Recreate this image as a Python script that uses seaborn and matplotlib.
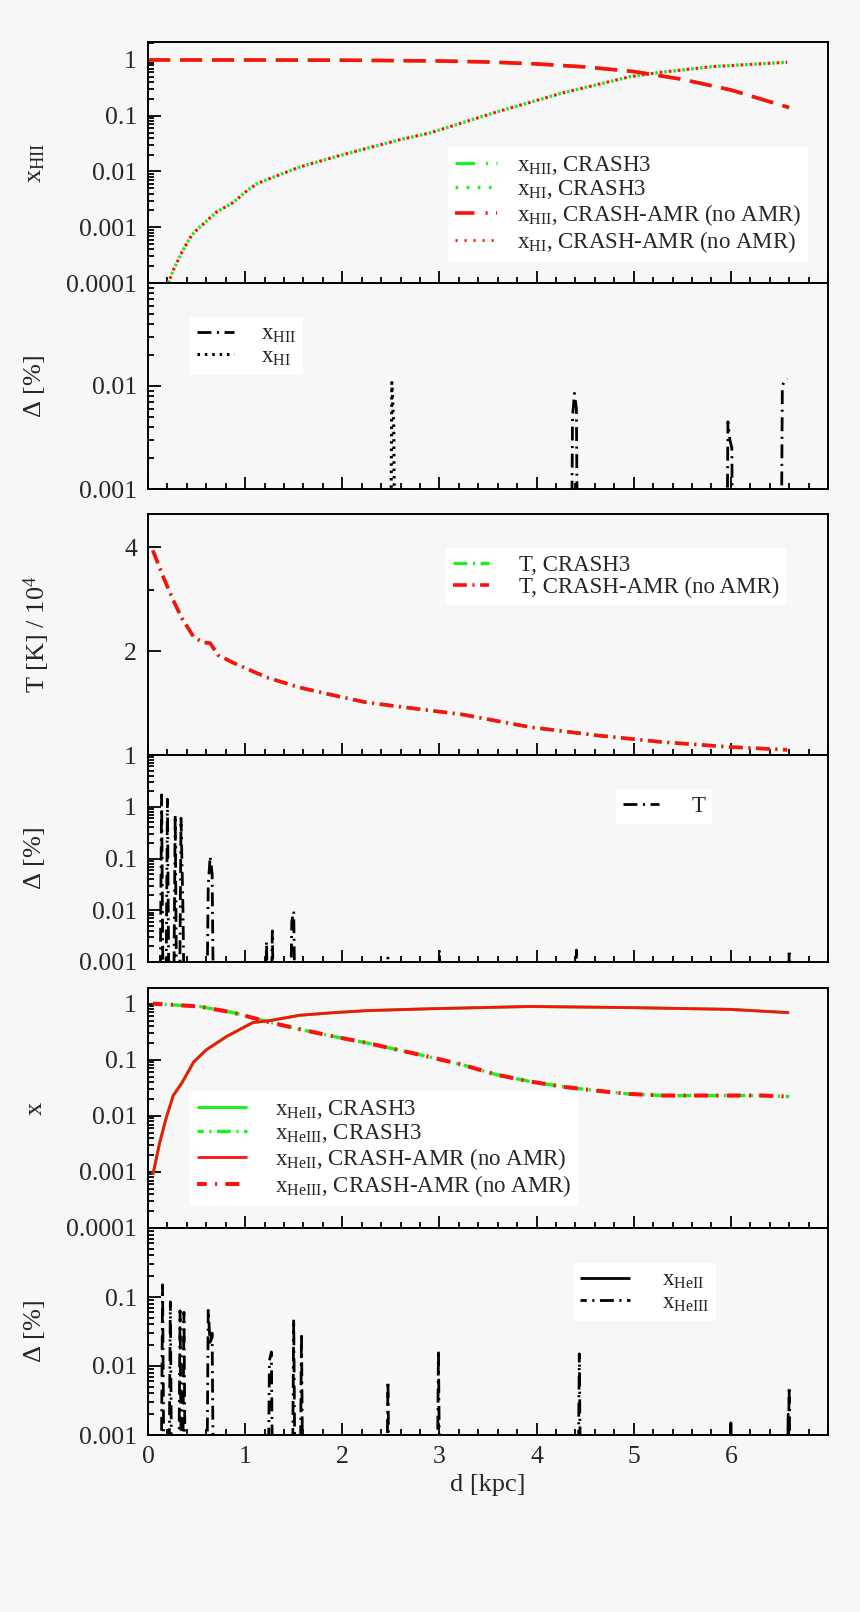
import numpy as np
import seaborn as sns
import matplotlib
matplotlib.use('Agg')
import matplotlib.pyplot as plt
from matplotlib.ticker import MultipleLocator, FixedLocator, NullFormatter, LogLocator

# ---- data ----
# panel 1: hydrogen ionisation fractions
d_hii = [0.0, 1.0, 2.0, 3.0, 3.5, 4.0, 4.5, 5.0, 5.5, 6.0, 6.6]
x_hii = [1.0, 1.0, 0.99, 0.96, 0.92, 0.85, 0.75, 0.62, 0.45, 0.29, 0.14]
d_hi = [0.21, 0.26, 0.35, 0.41, 0.45, 0.50, 0.71, 0.88, 1.03, 1.12, 1.22, 1.56,
        1.91, 2.25, 2.59, 2.90, 3.59, 4.27, 4.96, 5.24, 5.81, 6.58]
x_hi = [1.0e-4, 1.7e-4, 3.6e-4, 5.5e-4, 7.2e-4, 8.9e-4, 1.9e-3, 2.8e-3, 4.7e-3,
        6.0e-3, 7.1e-3, 0.012, 0.018, 0.026, 0.037, 0.049, 0.117, 0.257, 0.50,
        0.59, 0.76, 0.91]

# panel 2: relative differences (%)
dd_hii = [0.0, 4.35, 4.37, 4.39, 4.41, 4.43, 5.95, 5.97, 5.99, 6.01, 6.03,
          6.51, 6.53, 6.55, 6.58]
delta_hii = [1e-5, 1e-5, 0.005, 0.0085, 0.006, 1e-5, 1e-5, 0.0045, 0.003,
             0.0025, 1e-5, 1e-5, 0.0100, 0.0112, 0.0118]
dd_hi = [0.0, 2.49, 2.51, 2.53, 2.55]
delta_hi = [1e-5, 1e-5, 0.0108, 0.004, 1e-5]

# panel 3: temperature / 1e4 K
d_T = [0.05, 0.16, 0.26, 0.35, 0.47, 0.57, 0.64, 0.72, 0.88, 1.22, 1.56, 1.91,
       2.25, 2.87, 3.24, 3.93, 4.62, 5.30, 5.99, 6.58]
T_amr = [3.92, 3.27, 2.81, 2.49, 2.20, 2.12, 2.11, 1.95, 1.85, 1.68, 1.57, 1.49,
         1.42, 1.35, 1.31, 1.205, 1.14, 1.09, 1.055, 1.035]

# panel 4: relative difference in T (%)
dd_T = [0.0, 0.12, 0.14, 0.16, 0.18, 0.20, 0.22, 0.24, 0.26, 0.28, 0.30, 0.32,
        0.34, 0.36, 0.38, 0.60, 0.62, 0.64, 0.66, 0.68, 1.20, 1.22, 1.24, 1.26,
        1.28, 1.30, 1.46, 1.48, 1.50, 1.52, 2.46, 2.47, 2.48, 2.99, 3.00, 3.01,
        4.40, 4.41, 4.42, 6.59, 6.60, 6.61]
delta_T = [1e-5, 1e-5, 1.7, 1e-5, 1e-5, 1.4, 1e-5, 1e-5, 1e-5, 0.7, 1e-5, 1e-5,
           0.6, 0.01, 1e-5, 1e-5, 0.03, 0.11, 0.05, 1e-5, 1e-5, 0.0025, 1e-5,
           1e-5, 0.004, 1e-5, 1e-5, 0.006, 0.0095, 1e-5, 1e-5, 0.0012, 1e-5,
           1e-5, 0.0017, 1e-5, 1e-5, 0.0017, 1e-5, 1e-5, 0.0017, 1e-5]

# panel 5: helium ionisation fractions
d_he = [0.05, 0.12, 0.19, 0.26, 0.35, 0.47, 0.60, 0.81, 0.95, 1.08, 1.26, 1.56,
        1.91, 2.25, 2.90, 3.93, 4.96, 5.99, 6.60]
x_heii = [8.9e-4, 3.3e-3, 9.5e-3, 0.023, 0.039, 0.091, 0.15, 0.26, 0.35, 0.46,
          0.50, 0.62, 0.69, 0.75, 0.81, 0.89, 0.85, 0.79, 0.69]
d_heiii = [0.05, 0.53, 0.88, 1.22, 1.56, 1.91, 2.25, 2.90, 3.24, 3.59, 3.93,
           4.27, 4.62, 4.96, 5.30, 5.81, 6.33, 6.60]
x_heiii = [1.0, 0.89, 0.69, 0.48, 0.35, 0.26, 0.20, 0.112, 0.081, 0.054, 0.041,
           0.033, 0.028, 0.0245, 0.023, 0.023, 0.023, 0.022]

# panel 6: relative differences in helium (%)
dd_heiii = [0.0, 0.13, 0.15, 0.17, 0.21, 0.23, 0.25, 0.31, 0.33, 0.35, 0.37,
            0.39, 0.60, 0.62, 0.64, 0.66, 0.68, 1.23, 1.25, 1.27, 1.29, 1.48,
            1.50, 1.52, 1.56, 1.58, 1.60, 2.45, 2.47, 2.49, 2.97, 2.99, 3.01,
            4.42, 4.44, 4.46, 6.58, 6.60, 6.62]
delta_heiii = [1e-5, 1e-5, 0.15, 1e-5, 1e-5, 0.085, 1e-5, 1e-5, 0.063, 1e-5,
               0.06, 1e-5, 1e-5, 0.067, 0.02, 0.03, 1e-5, 1e-5, 0.012, 0.016,
               1e-5, 1e-5, 0.048, 1e-5, 1e-5, 0.03, 1e-5, 1e-5, 0.006, 1e-5,
               1e-5, 0.017, 1e-5, 1e-5, 0.015, 1e-5, 1e-5, 0.005, 1e-5]
dd_heii = [0.0, 5.99, 6.00, 6.01, 6.57, 6.59, 6.61]
delta_heii = [1e-5, 1e-5, 0.0015, 1e-5, 1e-5, 0.002, 1e-5]

# ---- style ----
sns.set_style('ticks')
BG = '#f7f7f7'
GREEN = '#1ef01e'
RED = '#ff1010'
plt.rcParams['font.family'] = ['Liberation Serif', 'DejaVu Serif']
plt.rcParams.update({
    'mathtext.fontset': 'custom',
    'mathtext.rm': 'Liberation Serif',
    'mathtext.it': 'Liberation Serif:italic',
    'mathtext.bf': 'Liberation Serif:bold',
    'lines.scale_dashes': False,
    'axes.linewidth': 1.4,
    'axes.edgecolor': 'black',
    'axes.facecolor': BG,
    'figure.facecolor': BG,
    'savefig.facecolor': BG,
})

DASHDOT = (0, (10, 4, 1.5, 4))
LONGDASH = (0, (16, 7))
DOTDASH = (5.5, (10, 4, 1.5, 4))
DOT_G = (0, (2, 4.5))
DOT_R = (3.25, (2, 4.5))

fig = plt.figure(figsize=(8.6, 16.12), dpi=100)
L, W = 148 / 860, 680 / 860
H = 1612
def panel(top, bottom):
    return fig.add_axes([L, 1 - bottom / H, W, (bottom - top) / H])

axes = [panel(42, 283), panel(283, 489), panel(514, 755),
        panel(755, 962), panel(988, 1228), panel(1228, 1435)]


def draw(ax, x, y, color, lw, ls, label=None):
    sns.lineplot(x=x, y=y, ax=ax, sort=False, estimator=None, color=color,
                 lw=lw, legend=False)
    line = ax.lines[-1]
    line.set_linestyle(ls)
    line.set_solid_capstyle('butt')
    line.set_dash_capstyle('butt')
    if label:
        line.set_label(label)
    return line


def style(ax, ylim, majors, labels, ylabel, lx=-0.149, minors=None, xlabels=False):
    ax.set_xlim(0, 7)
    ax.set_ylim(*ylim)
    ax.xaxis.set_major_locator(FixedLocator([0, 1, 2, 3, 4, 5, 6]))
    ax.xaxis.set_minor_locator(MultipleLocator(0.2))
    ax.set_yticks(majors)
    ax.set_yticklabels(labels)
    if minors is not None:
        ax.yaxis.set_minor_locator(FixedLocator(minors))
    else:
        ax.yaxis.set_minor_locator(LogLocator(base=10, subs=np.arange(2, 10)))
    ax.yaxis.set_minor_formatter(NullFormatter())
    ax.tick_params(which='both', direction='in', top=False, right=False,
                   width=1.3, labelsize=18.5, color='black')
    ax.tick_params(which='major', length=9)
    ax.tick_params(which='minor', length=4.5)
    ax.tick_params(axis='y', pad=8)
    ax.tick_params(axis='x', pad=8, labelbottom=xlabels)
    ax.set_ylabel(ylabel, fontsize=19)
    ax.yaxis.set_label_coords(lx, 0.5)
    ax.set_xlabel('')
    for s in ax.spines.values():
        s.set_linewidth(1.4)


def leg(ax, loc, anchor, handles=None, **kw):
    opts = dict(loc=loc, bbox_to_anchor=anchor, frameon=True, fancybox=False,
                framealpha=1, facecolor='white', edgecolor='none', fontsize=16.5,
                labelspacing=0.05, handlelength=1.6, handletextpad=0.9,
                borderpad=0.3, borderaxespad=0)
    opts.update(kw)
    if handles is not None:
        lg = ax.legend(handles=handles, **opts)
    else:
        lg = ax.legend(**opts)
    lg.get_frame().set_linewidth(0)
    return lg


for ax in axes:
    ax.set_yscale('log')

# panel 1
ax = axes[0]
draw(ax, d_hii, x_hii, GREEN, 2.4, LONGDASH)
draw(ax, d_hi, x_hi, GREEN, 2.4, DOT_G)
draw(ax, d_hii, x_hii, RED, 2.6, LONGDASH)
draw(ax, d_hi, x_hi, RED, 2.2, DOT_R)
h1 = plt.Line2D([], [], color=GREEN, lw=2.4, ls=(0, (14, 8, 1.5, 6)),
                label=r'$\mathrm{x}_{\mathrm{HII}}$, CRASH3')
h2 = plt.Line2D([], [], color=GREEN, lw=2.4, ls=(0, (2, 6)),
                label=r'$\mathrm{x}_{\mathrm{HI}}$, CRASH3')
h3 = plt.Line2D([], [], color=RED, lw=2.6, ls=(0, (14, 8, 1.5, 6)),
                label=r'$\mathrm{x}_{\mathrm{HII}}$, CRASH-AMR (no AMR)')
h4 = plt.Line2D([], [], color=RED, lw=2.0, ls=(0, (1.5, 5)),
                label=r'$\mathrm{x}_{\mathrm{HI}}$, CRASH-AMR (no AMR)')
style(ax, (1e-4, 2.1), [1e-4, 1e-3, 1e-2, 0.1, 1], ['0.0001', '0.001', '0.01', '0.1', '1'],
      r'$\mathrm{x}_{\mathrm{HII}}$')
leg(ax, 'lower right', (0.971, 0.087), handles=[h1, h2, h3, h4], handlelength=1.8)

# panel 2
ax = axes[1]
draw(ax, dd_hii, delta_hii, 'black', 2.0, DASHDOT, r'$\mathrm{x}_{\mathrm{HII}}$')
draw(ax, dd_hi, delta_hi, 'black', 2.2, (0, (1.8, 3.5)), r'$\mathrm{x}_{\mathrm{HI}}$')
style(ax, (1e-3, 0.1), [1e-3, 1e-2], ['0.001', '0.01'], r'$\Delta$ [%]')
leg(ax, 'upper left', (0.062, 0.835), handletextpad=1.2)

# panel 3
ax = axes[2]
draw(ax, d_T, T_amr, GREEN, 2.4, DASHDOT, 'T, CRASH3')
draw(ax, d_T, T_amr, RED, 2.6, DASHDOT, 'T, CRASH-AMR (no AMR)')
style(ax, (1, 5), [1, 2, 4], ['1', '2', '4'], r'T [K] / 10$^4$', lx=-0.141, minors=[3])
leg(ax, 'upper left', (0.438, 0.859), handletextpad=1.3)

# panel 4
ax = axes[3]
draw(ax, dd_T, delta_T, 'black', 2.0, DASHDOT, 'T')
style(ax, (1e-3, 10), [1e-3, 1e-2, 0.1, 1], ['0.001', '0.01', '0.1', '1'], r'$\Delta$ [%]')
leg(ax, 'upper left', (0.688, 0.836), handletextpad=1.4)

# panel 5
ax = axes[4]
draw(ax, d_he, x_heii, GREEN, 2.2, '-', r'$\mathrm{x}_{\mathrm{HeII}}$, CRASH3')
draw(ax, d_heiii, x_heiii, GREEN, 2.4, DOTDASH, r'$\mathrm{x}_{\mathrm{HeIII}}$, CRASH3')
draw(ax, d_he, x_heii, RED, 2.0, '-', r'$\mathrm{x}_{\mathrm{HeII}}$, CRASH-AMR (no AMR)')
draw(ax, d_heiii, x_heiii, RED, 2.9, (3, (10, 6, 1.5, 6)), r'$\mathrm{x}_{\mathrm{HeIII}}$, CRASH-AMR (no AMR)')
style(ax, (1e-4, 1.9), [1e-4, 1e-3, 1e-2, 0.1, 1], ['0.0001', '0.001', '0.01', '0.1', '1'],
      'x')
leg(ax, 'upper left', (0.062, 0.571), handlelength=2.2, handletextpad=1.2)

# panel 6
ax = axes[5]
draw(ax, dd_heii, delta_heii, 'black', 2.0, '-', r'$\mathrm{x}_{\mathrm{HeII}}$')
draw(ax, dd_heiii, delta_heiii, 'black', 2.0, DOTDASH, r'$\mathrm{x}_{\mathrm{HeIII}}$')
style(ax, (1e-3, 1), [1e-3, 1e-2, 0.1], ['0.001', '0.01', '0.1'], r'$\Delta$ [%]',
      xlabels=True)
ax.set_xlabel('d [kpc]', fontsize=19, labelpad=4)
leg(ax, 'upper left', (0.625, 0.831), handlelength=2.2, handletextpad=1.4)

fig.savefig('out.png', dpi=100)
